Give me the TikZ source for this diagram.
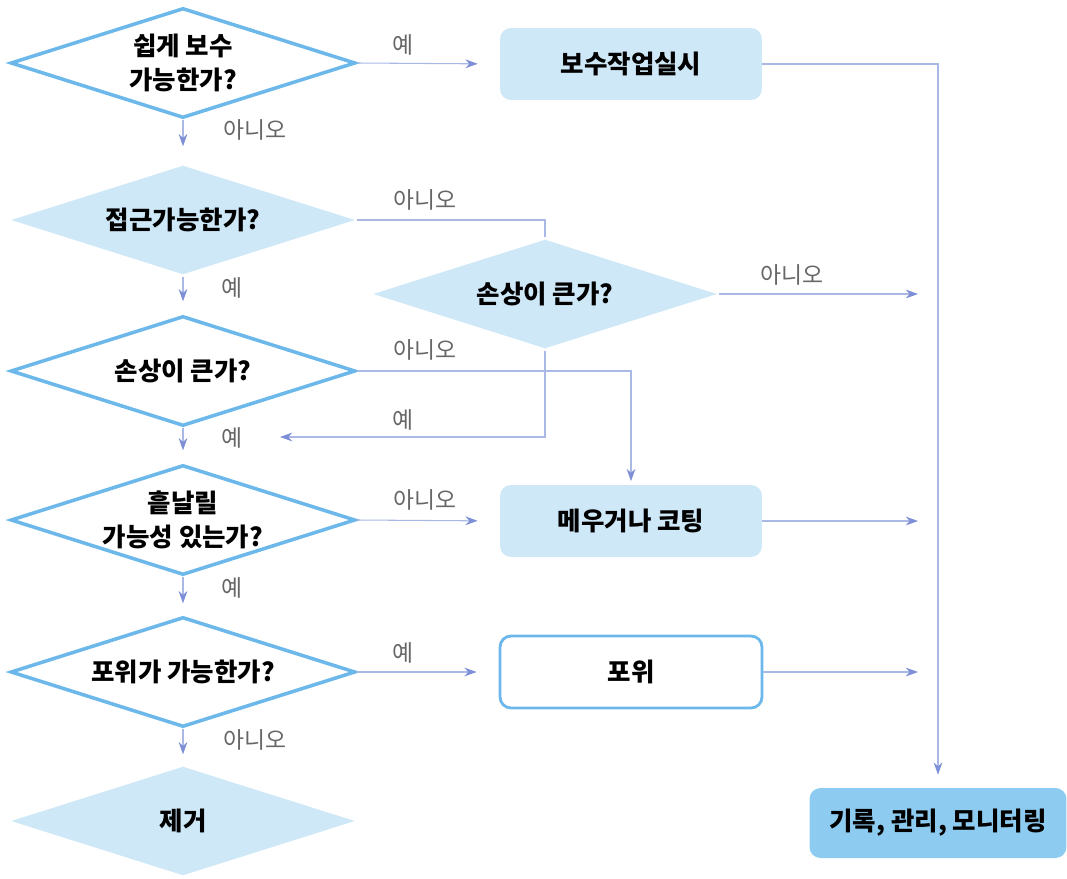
\documentclass[tikz,border=0pt]{standalone}
\usepackage{fontspec}
\setmainfont{Noto Sans CJK KR}
\usetikzlibrary{shapes.geometric,arrows.meta}
\definecolor{rimblue}{HTML}{6DB8EA}
\definecolor{paleblue}{HTML}{CFE8F8}
\definecolor{deepblue}{HTML}{8DCBF0}
\definecolor{flowc}{HTML}{AAB8E6}
\definecolor{tipc}{HTML}{7D8FD6}
\definecolor{anscol}{HTML}{666666}
\tikzset{
  ask/.style={diamond, draw=rimblue, line width=2pt, fill=white, aspect=3.14,
    inner sep=0pt, minimum width=6.9cm, minimum height=2.2cm, align=center,
    font=\bfseries\fontsize{14.5}{19}\selectfont},
  askfill/.style={ask, draw=none, fill=paleblue},
  job/.style={rectangle, rounded corners=0.22cm, fill=paleblue,
    minimum width=5.24cm, minimum height=1.44cm,
    font=\bfseries\fontsize{14.5}{19}\selectfont},
  link/.style={draw=flowc, line width=0.6pt},
  flow/.style={link, -{Stealth[length=7pt,width=5pt,color=tipc]}},
  ans/.style={font=\fontsize{13}{14}\selectfont, text=anscol},
}
\begin{document}
\begin{tikzpicture}[x=0.02cm, y=-0.02cm]
      \useasboundingbox (0,0) rectangle (1067,878);
      \node[ask]     (q1) at (183,63)  {쉽게 보수\\가능한가?};
      \node[askfill] (q2) at (183,220) {접근가능한가?};
      \node[askfill] (q3) at (545,294) {손상이 큰가?};
      \node[ask]     (q4) at (183,371) {손상이 큰가?};
      \node[ask]     (q5) at (183,520) {흩날릴\\가능성 있는가?};
      \node[ask]     (q6) at (183,672) {포위가 가능한가?};
      \node[askfill] (q7) at (183,821) {제거};
      \node[job] (repair) at (631,64)  {보수작업실시};
      \node[job] (coat)   at (631,521) {메우거나 코팅};
      \node[job, fill=white, draw=rimblue, line width=1.6pt] (wrap) at (631,672) {포위};
      \node[job, fill=deepblue, minimum width=5.14cm, minimum height=1.4cm] (rec) at (938,823) {기록, 관리, 모니터링};
      \coordinate (e3) at (918,294);
      \coordinate (e5) at (918,521);
      \coordinate (e6) at (918,672);
      \coordinate (y3) at (280,437);
      \draw[flow, shorten >=0.44cm] (q1.east) -- (repair.west);
      \draw[flow, shorten >=0.26cm] (repair.east) -| (rec.north);
      \draw[flow, shorten >=0.34cm] (q1.south) -- (q2.north);
      \draw[flow, shorten >=0.26cm] (q2.south) -- (q4.north);
      \draw[flow, shorten >=0.26cm] (q4.south) -- (q5.north);
      \draw[flow, shorten >=0.24cm] (q5.south) -- (q6.north);
      \draw[flow, shorten >=0.2cm]  (q6.south) -- (q7.north);
      \draw[link] (q2.east) -| (q3.north);
      \draw[flow] (q3.east) -- (e3);
      \draw[flow] (q3.south) |- (y3);
      \draw[flow, shorten >=2pt] (q4.east) -| (coat.north);
      \draw[flow, shorten >=0.44cm] (q5.east) -- (coat.west);
      \draw[flow] (coat.east) -- (e5);
      \draw[flow, shorten >=0.44cm] (q6.east) -- (wrap.west);
      \draw[flow] (wrap.east) -- (e6);
      \node[ans] (a1)  at (403,45)  {예};
      \node[ans] (a2)  at (255,130) {아니오};
      \node[ans] (a3)  at (425,200) {아니오};
      \node[ans] (a4)  at (232,288) {예};
      \node[ans] (a5)  at (792,275) {아니오};
      \node[ans] (a6)  at (425,350) {아니오};
      \node[ans] (a7)  at (403,420) {예};
      \node[ans] (a8)  at (232,438) {예};
      \node[ans] (a9)  at (425,500) {아니오};
      \node[ans] (a10) at (232,588) {예};
      \node[ans] (a11) at (403,653) {예};
      \node[ans] (a12) at (255,740) {아니오};
    \end{tikzpicture}
\end{document}
